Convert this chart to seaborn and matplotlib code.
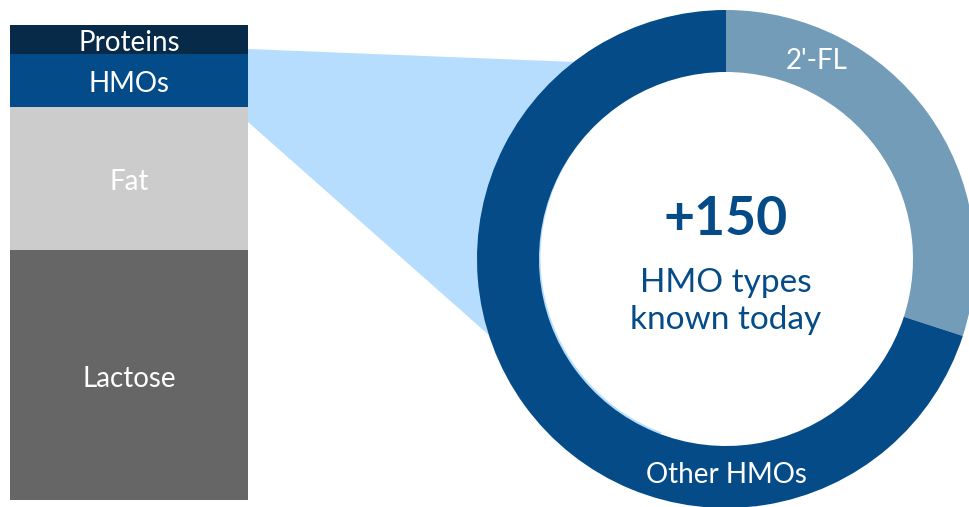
import matplotlib
matplotlib.use("Agg")
import matplotlib.pyplot as plt
import seaborn as sns
import numpy as np
import pandas as pd
from matplotlib.patches import Polygon, Circle

# ---- data ----
components = ["Lactose", "Fat", "HMOs", "Proteins"]
amounts = [7.0, 4.0, 1.5, 0.8]
component_colors = ["#666666", "#CCCCCC", "#044C89", "#072A48"]

hmo_types = ["2'-FL", "Other HMOs"]
hmo_share = [30, 70]
hmo_colors = ["#739CB8", "#044B87"]

headline = "+150"
sub_lines = ["HMO types", "known today"]

text_blue = "#044B87"
connector_color = "#B7DDFE"

sns.set_theme(style="white")
plt.rcParams["font.family"] = ["Lato", "DejaVu Sans"]

W, H = 969, 507
fig = plt.figure(figsize=(W / 100, H / 100), dpi=100)

# geometry (pixels)
cx, cy, R, r_in = 726, 259, 249, 187
bar_left, bar_right, bar_top, bar_bottom = 10, 248, 25, 500

# background axes for the connector wedge (pixel coords)
bg = fig.add_axes([0, 0, 1, 1])
bg.set_xlim(0, W)
bg.set_ylim(H, 0)
bg.axis("off")
connector = Polygon([(bar_right, 49), (cx, 68), (cx, cy), (cx - 80, cy + 215), (bar_right, 122)],
                    closed=True, fc=connector_color, ec="none")
bg.add_patch(connector)

# stacked bar
bx = fig.add_axes([bar_left / W, 1 - bar_bottom / H, (bar_right - bar_left) / W, (bar_bottom - bar_top) / H])
cum = np.cumsum(amounts)
for i in reversed(range(len(components))):
    df = pd.DataFrame({"x": ["milk"], "y": [cum[i]]})
    sns.barplot(data=df, x="x", y="y", color=component_colors[i], width=1, saturation=1,
                linewidth=0, ax=bx)
bx.set_xlim(-0.5, 0.5)
bx.set_ylim(0, cum[-1])
bx.axis("off")
for i, name in enumerate(components):
    center = cum[i] - amounts[i] / 2
    bx.annotate(name, (0, center), xytext=(0, -8.3), textcoords="offset points",
                ha="center", va="baseline", color="white", fontsize=20)

# donut
dx = fig.add_axes([(cx - R) / W, 1 - (cy + R) / H, 2 * R / W, 2 * R / H])
dx.pie(hmo_share, colors=hmo_colors, startangle=90, counterclock=False, radius=1,
       wedgeprops=dict(width=1 - r_in / R, linewidth=0, edgecolor="none"))
dx.add_patch(Circle((0.006, 0.006), r_in / R, fc="white", ec="none", zorder=0.5))
dx.set_xlim(-1, 1)
dx.set_ylim(-1, 1)
dx.axis("off")

dx.text(0, (cy - 235) / R, headline, ha="center", va="baseline", fontsize=38.5,
        fontweight="bold", color=text_blue)
dx.text(0, (cy - 292) / R, sub_lines[0], ha="center", va="baseline", fontsize=24, color=text_blue)
dx.text(0, (cy - 329) / R, sub_lines[1], ha="center", va="baseline", fontsize=24, color=text_blue)
dx.text((817 - cx) / R, (cy - 69) / R, hmo_types[0], ha="center", va="baseline", fontsize=20, color="white")
dx.text(0, (cy - 483) / R, hmo_types[1], ha="center", va="baseline", fontsize=20, color="white")

fig.savefig("out.png", dpi=100)
